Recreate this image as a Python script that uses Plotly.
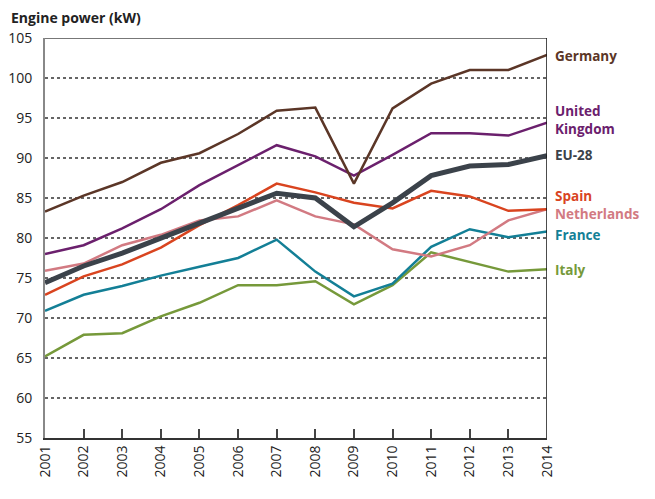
import plotly.graph_objects as go

years = list(range(2001, 2015))

germany = [83.3, 85.3, 87.0, 89.4, 90.6, 93.0, 95.9, 96.3, 86.8, 96.2, 99.3, 101.0, 101.0, 102.9]
uk = [78.0, 79.1, 81.2, 83.6, 86.6, 89.1, 91.6, 90.2, 87.8, 90.4, 93.1, 93.1, 92.8, 94.4]
eu28 = [74.4, 76.5, 78.1, 80.0, 81.9, 83.7, 85.6, 85.0, 81.4, 84.4, 87.8, 89.0, 89.2, 90.3]
spain = [72.9, 75.2, 76.7, 78.8, 81.6, 84.1, 86.8, 85.7, 84.4, 83.7, 85.9, 85.2, 83.4, 83.6]
netherlands = [75.9, 76.8, 79.1, 80.4, 82.2, 82.7, 84.7, 82.7, 81.7, 78.6, 77.7, 79.1, 82.2, 83.6]
france = [70.9, 72.9, 74.0, 75.3, 76.4, 77.5, 79.8, 75.8, 72.7, 74.3, 78.9, 81.1, 80.1, 80.8]
italy = [65.2, 67.9, 68.1, 70.2, 71.9, 74.1, 74.1, 74.6, 71.7, 74.1, 78.2, 77.0, 75.8, 76.1]

series = [
    ("Germany", germany, "#5b3627", 2.5, 102.75),
    ("United<br>Kingdom", uk, "#6b206d", 2.5, 94.7),
    ("EU-28", eu28, "#3b424a", 5, 90.4),
    ("Spain", spain, "#d9441f", 2.5, 85.25),
    ("Netherlands", netherlands, "#d27a82", 2.5, 82.95),
    ("France", france, "#137f96", 2.5, 80.4),
    ("Italy", italy, "#76993a", 2.5, 76.0),
]

y_ticks = list(range(55, 106, 5))

fig = go.Figure()
order = [6, 5, 4, 3, 1, 0, 2]
for i in order:
    name, vals, color, w, ly = series[i]
    fig.add_trace(go.Scatter(x=years, y=vals, mode="lines", name=name.replace("<br>", " "),
                             line=dict(color=color, width=w), showlegend=False, hoverinfo="skip"))

for name, vals, color, w, ly in series:
    fig.add_annotation(x=2014, y=ly, xref="x", yref="y", text="<b>" + name + "</b>",
                       showarrow=False, xanchor="left", yanchor="middle", xshift=6,
                       align="left", font=dict(family="Open Sans", size=13.5, color=color))

for v in y_ticks[1:-1]:
    fig.add_shape(type="line", xref="x", yref="y", x0=2001, x1=2014, y0=v, y1=v,
                  line=dict(color="#333333", width=1.3, dash="dot"), layer="below")
fig.add_shape(type="line", xref="x", yref="y", x0=2001, x1=2014, y0=105, y1=105,
              line=dict(color="#777777", width=2))
fig.add_shape(type="line", xref="x", yref="y", x0=2014, x1=2014, y0=55, y1=105,
              line=dict(color="#111111", width=1.5))

fig.add_annotation(x=0, y=1, xref="paper", yref="paper", xshift=-36, yshift=9,
                   text="<b>Engine power (kW)</b>", showarrow=False, xanchor="left", yanchor="bottom",
                   font=dict(family="Open Sans", size=14, color="#222222"))

fig.update_xaxes(range=[2001, 2014], tickvals=years, ticktext=[str(y) for y in years],
                 tickangle=-90, ticks="inside", ticklen=9, tickwidth=1.5, tickcolor="#444444",
                 showgrid=False, showline=True, linecolor="#333333", linewidth=2, automargin=False,
                 tickfont=dict(family="Open Sans", size=14, color="#222222"), zeroline=False)
fig.update_yaxes(range=[55, 105], tickvals=y_ticks, showgrid=False, showline=True,
                 linecolor="#888888", linewidth=2, ticks="", ticklabelstandoff=8, automargin=False,
                 tickfont=dict(family="Open Sans", size=14, color="#222222"), zeroline=False)

# page body has an 8px default margin, so the figure is sized to fit inside the window
fig.update_layout(width=647, height=491, margin=dict(l=37, r=108, t=30, b=61, autoexpand=False),
                  plot_bgcolor="white", paper_bgcolor="white")

fig.write_html("out.html")
